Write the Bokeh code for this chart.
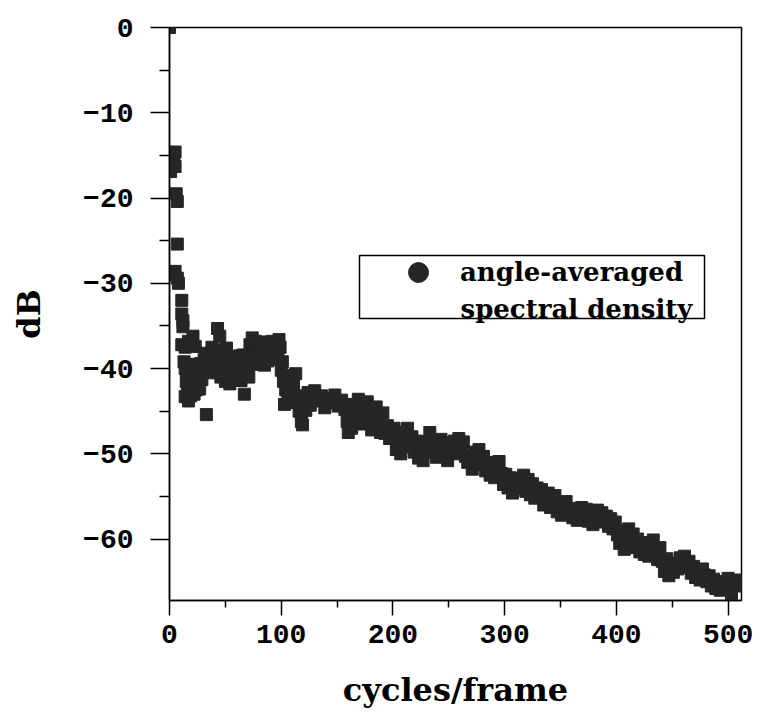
from bokeh.plotting import figure
from bokeh.models import Range1d, FixedTicker, Legend, LegendItem, BoxAnnotation, Label
from bokeh.embed import file_html
from bokeh.resources import INLINE

# cycles/frame and level in dB
freq = [0, 1, 1, 3, 4, 5, 5, 5, 6, 7, 7, 7, 8, 11, 11, 11, 12, 12, 14, 14, 14, 15, 16, 17, 17, 18, 19, 20,
        21, 21, 23, 23, 24, 26, 28, 29, 31, 33, 33, 35, 37, 38, 40, 42, 43, 44, 45, 46, 47, 49, 50, 51,
        53, 55, 57, 59, 61, 63, 65, 67, 68, 70, 72, 74, 75, 76, 78, 80, 82, 84, 85, 86, 88, 90, 92, 94,
        96, 98, 100, 101, 102, 103, 104, 105, 106, 107, 109, 110, 111, 113, 114, 116, 118, 119, 120,
        122, 124, 126, 128, 130, 133, 136, 139, 142, 145, 148, 151, 154, 157, 159, 160, 161, 163, 165,
        167, 169, 171, 173, 175, 177, 179, 181, 183, 185, 187, 189, 191, 193, 195, 197, 199,
        201, 203, 205, 207, 209, 211, 213, 215, 217, 219, 221, 223, 225, 227, 229, 231,
        233, 235, 237, 239, 241, 243, 245, 247, 249, 251, 253, 255, 257, 259, 261, 263, 265,
        267, 269, 271, 273, 275, 277, 279, 281, 283, 285, 287, 289, 291, 293, 295, 297,
        299, 301, 303, 305, 307, 309, 311, 313, 315, 317, 319, 321, 323, 325, 327, 329,
        331, 333, 335, 337, 339, 341, 343, 345, 347, 349, 351, 353, 355, 357, 359, 361, 363, 365, 367,
        369, 371, 373, 375, 377, 379, 381, 383, 385, 387, 389, 391, 393, 395, 397, 399,
        401, 403, 405, 407, 409, 411, 413, 415, 417, 419, 421, 423, 425, 427, 429, 431, 433, 435, 437, 439,
        441, 443, 445, 447, 449, 451, 453, 455, 457, 459, 461, 463, 465, 467, 469,
        471, 473, 475, 477, 479, 481, 483, 485, 487, 489, 491, 493,
        495, 497, 499, 500, 501, 503, 505, 507, 509, 511,
        13, 16, 18, 19, 22, 22, 25, 27, 27, 30, 32, 34, 36, 39, 41, 48, 52, 54, 56, 58, 60, 62, 64,
        66, 69, 71, 73, 77, 79, 81, 83, 87, 89, 91, 93, 95, 97, 99]
db = [0.0, -16.9, -29.0, -15.8, -15.0, -14.6, -16.3, -28.6, -19.5, -20.4, -25.4, -29.4, -30.0, -32.0,
      -33.6, -37.2, -34.4, -35.1, -37.5, -40.0, -43.3, -41.5, -42.8, -36.8, -43.8, -40.5, -43.2, -42.0,
      -36.2, -41.8, -37.4, -39.8, -42.5, -40.9, -39.4, -41.3, -38.9, -40.1, -45.4, -39.2, -38.6, -37.5,
      -39.0, -37.8, -35.3, -40.2, -36.2, -41.0, -38.4, -39.5, -41.5, -37.6,
      -40.8, -38.9, -41.3, -39.6, -40.5, -38.5, -39.8, -43.0, -40.9, -38.8, -37.2, -36.4, -39.5, -38.0,
      -37.0, -38.7, -37.5, -38.2, -39.6, -37.0, -39.1, -37.8, -36.8, -38.5,
      -37.3, -36.6, -40.2, -39.2, -41.5, -44.2, -42.5, -40.8, -43.6, -41.8, -43.0, -44.0, -42.0, -40.6,
      -43.2, -45.0, -46.2, -46.6, -43.8,
      -44.9, -42.8, -44.3, -43.5, -42.6, -43.8, -43.2, -44.6, -43.5, -44.0, -43.1, -44.4, -43.7, -44.8,
      -46.2, -47.5, -45.1, -47.0, -44.2,
      -45.8, -43.6, -44.9, -46.5, -45.3, -43.9, -45.6, -47.2, -46.1, -44.5, -46.0, -47.5, -45.2, -47.6,
      -46.7, -48.2, -47.3,
      -47.0, -49.5, -48.3, -50.0, -47.5, -48.8, -47.0, -49.2, -48.0, -49.8, -48.5, -50.5, -49.0, -50.8,
      -49.5, -48.6,
      -47.5, -49.8, -48.6, -50.4, -49.0, -48.3, -50.2, -49.4, -50.8, -48.7, -49.8, -48.5, -50.0, -48.2,
      -49.5, -48.6, -50.3,
      -51.0, -50.2, -51.8, -49.8, -50.7, -49.5, -51.2, -50.3, -52.0, -51.0, -52.5, -51.3, -52.8, -51.5,
      -50.9, -52.3,
      -53.6, -52.4, -54.0, -52.8, -54.6, -53.2, -54.1, -52.9, -53.8, -52.5, -54.4, -53.0, -54.8, -53.5,
      -55.2, -54.0,
      -55.0, -54.2, -56.0, -55.3, -54.6, -56.3, -55.5, -54.9, -56.8, -55.9, -57.2, -56.2, -55.6, -57.0,
      -56.4, -57.5, -56.6, -57.8, -56.9,
      -56.3, -57.6, -56.5, -57.9, -56.8, -58.3, -57.1, -56.6, -57.7, -56.9, -58.0, -57.3, -58.5, -57.6,
      -58.8, -58.0,
      -59.5, -60.5, -59.1, -61.2, -59.8, -58.8, -60.3, -59.4, -61.0, -60.0, -61.5, -60.4, -61.8, -60.6,
      -62.0, -60.8, -60.1, -61.4, -62.4, -61.0,
      -62.6, -63.8, -62.3, -64.3, -63.0, -63.9, -62.8, -63.5, -62.2, -63.1, -62.0, -63.3, -62.6, -64.0,
      -63.2,
      -64.5, -63.7, -64.8, -63.5, -64.2, -65.0, -64.3, -65.5, -64.7, -65.8, -65.0, -66.0,
      -65.0, -65.8, -65.2, -64.6, -65.9, -66.4, -65.2, -64.8, -65.5, -65.3,
      -39.2, -40.8, -42.2, -39.5, -40.6, -43.0, -41.6, -42.4, -40.0, -40.5, -39.6, -38.2, -40.0, -38.3,
      -40.5, -40.0, -39.0, -41.8, -40.0, -38.6, -41.0, -39.3, -41.4, -38.4, -39.8, -41.0, -38.6, -36.8,
      -39.3, -36.9, -39.0, -38.3, -36.9, -38.9, -37.6, -37.1, -38.2, -37.5]

x_ticks = [0, 100, 200, 300, 400, 500]
x_minor = [50, 150, 250, 350, 450]
y_ticks = [0, -10, -20, -30, -40, -50, -60]
y_minor = [-5, -15, -25, -35, -45, -55]
y_tick_labels = ["0", "\u221210", "\u221220", "\u221230", "\u221240", "\u221250", "\u221260"]
x_label = "cycles/frame"
y_label = "dB"
legend_lines = ["angle-averaged", "spectral density"]

INK = "#262626"
SERIF = "DejaVu Serif"
MONO = "Liberation Mono"

p = figure(frame_width=572, frame_height=573,
           x_range=Range1d(0, 512), y_range=Range1d(-67.2, 0),
           output_backend="svg", toolbar_location=None,
           min_border_left=169, min_border_top=27, min_border_right=21, min_border_bottom=100,
           background_fill_color="white", border_fill_color="white")

p.grid.visible = False
p.outline_line_color = "black"
p.outline_line_width = 1.5
p.outline_line_alpha = 1

p.scatter(freq, db, marker="square", size=12, color=INK)

# x axis
p.xaxis.ticker = FixedTicker(ticks=x_ticks, minor_ticks=x_minor)
p.xaxis.axis_line_width = 1.5
p.xaxis.major_tick_line_width = 1.5
p.xaxis.minor_tick_line_width = 1.5
p.xaxis.major_tick_out = 15
p.xaxis.major_tick_in = 0
p.xaxis.minor_tick_out = 7
p.xaxis.minor_tick_in = 0
p.xaxis.major_label_text_font = MONO
p.xaxis.major_label_text_font_style = "bold"
p.xaxis.major_label_text_font_size = "28px"
p.xaxis.major_label_text_color = "black"
p.xaxis.major_label_standoff = 9
p.xaxis.axis_label = x_label
p.xaxis.axis_label_text_font = SERIF
p.xaxis.axis_label_text_font_style = "bold"
p.xaxis.axis_label_text_font_size = "32px"
p.xaxis.axis_label_text_color = "black"
p.xaxis.axis_label_standoff = 25

# y axis
p.yaxis.ticker = FixedTicker(ticks=y_ticks, minor_ticks=y_minor)
p.yaxis.major_label_overrides = {t: s for t, s in zip(y_ticks, y_tick_labels)}
p.yaxis.axis_line_width = 1.5
p.yaxis.major_tick_line_width = 1.5
p.yaxis.minor_tick_line_width = 1.5
p.yaxis.major_tick_out = 19
p.yaxis.major_tick_in = 0
p.yaxis.minor_tick_out = 10
p.yaxis.minor_tick_in = 0
p.yaxis.major_label_text_font = MONO
p.yaxis.major_label_text_font_style = "bold"
p.yaxis.major_label_text_font_size = "28px"
p.yaxis.major_label_text_color = "black"
p.yaxis.major_label_standoff = 17
p.yaxis.axis_label = y_label
p.yaxis.axis_label_text_font = SERIF
p.yaxis.axis_label_text_font_style = "bold"
p.yaxis.axis_label_text_font_size = "32px"
p.yaxis.axis_label_text_color = "black"
p.yaxis.axis_label_standoff = 32

# legend: symbol and first line through Bokeh's Legend, frame and second line as annotations
nan = float("nan")
symbol = p.scatter(x=[nan], y=[nan], marker="circle", size=20, color=INK)
legend = Legend(items=[LegendItem(label=legend_lines[0], renderers=[symbol])],
                location=(224, 303), padding=0, margin=0, spacing=0,
                glyph_width=50, glyph_height=50, label_standoff=17,
                label_text_font=SERIF, label_text_font_style="bold",
                label_text_font_size="26px", label_text_color="black",
                border_line_alpha=0, background_fill_alpha=0)
p.add_layout(legend, "center")
p.add_layout(BoxAnnotation(left=190, right=535, bottom=282, top=345,
                           left_units="screen", right_units="screen",
                           bottom_units="screen", top_units="screen",
                           fill_alpha=0, line_color="black", line_alpha=1, line_width=1.5))
p.add_layout(Label(x=291, y=292, x_units="screen", y_units="screen", text=legend_lines[1],
                   text_font=SERIF, text_font_style="bold", text_font_size="26px",
                   text_color="black", text_baseline="alphabetic"))

open("out.html", "w").write(file_html(p, INLINE))
